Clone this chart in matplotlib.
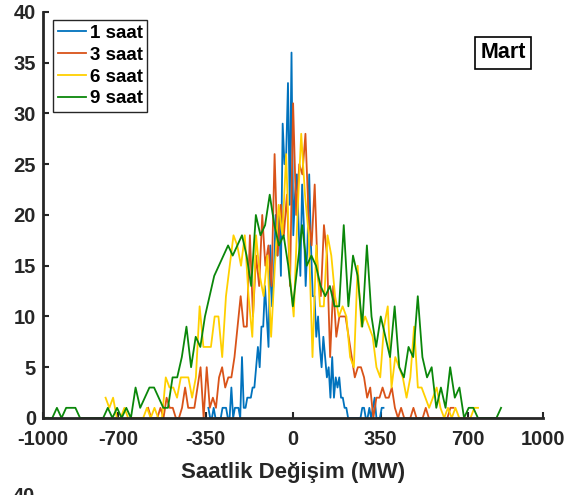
import matplotlib

matplotlib.use("Agg")

import matplotlib.pyplot as plt
import numpy as np


# Histogram counts (100 bins each).
# Each series spans its own range of hourly change in MW.
labels = ["1 saat", "3 saat", "6 saat", "9 saat"]
colors = ["#0072BD", "#D95319", "#FFD000", "#0A870A"]

range_1h = (-339, 361)
range_3h = (-580, 641)
range_6h = (-750, 739)
range_9h = (-1000, 831)

counts_1h = [
    1, 0, 0, 1, 0, 0, 0, 0, 1, 1,
    1, 0, 0, 3, 0, 1, 1, 1, 0, 6,
    1, 1, 2, 2, 2, 3, 3, 5, 7, 5,
    9, 9, 13, 10, 7, 17, 11, 14, 20, 16,
    20, 14, 29, 25, 26, 33, 21, 36, 18, 22,
    24, 19, 14, 23, 19, 13, 17, 24, 17, 12,
    12, 8, 10, 7, 5, 8, 6, 4, 5, 2,
    6, 2, 4, 3, 4, 2, 2, 1, 1, 0,
    0, 0, 0, 0, 0, 0, 0, 1, 1, 0,
    0, 1, 0, 1, 2, 0, 0, 0, 1, 1,
]

counts_3h = [
    1, 0, 0, 0, 1, 0, 2, 1, 1, 0,
    0, 1, 3, 1, 1, 1, 3, 5, 0, 5,
    1, 2, 1, 4, 5, 3, 4, 4, 6, 9,
    12, 9, 9, 18, 10, 16, 13, 20, 15, 17,
    13, 26, 16, 21, 18, 22, 13, 31, 20, 25,
    24, 28, 20, 17, 23, 14, 12, 19, 16, 6,
    13, 8, 10, 10, 10, 8, 6, 4, 5, 5,
    4, 2, 3, 0, 2, 2, 3, 2, 2, 3,
    1, 0, 1, 0, 0, 0, 1, 0, 0, 0,
    1, 0, 0, 0, 0, 0, 0, 0, 1, 1,
]

counts_6h = [
    2, 1, 2, 0, 0, 1, 0, 0, 0, 0,
    0, 1, 0, 1, 0, 0, 4, 3, 3, 2,
    4, 4, 4, 2, 4, 11, 7, 7, 7, 10,
    10, 6, 12, 15, 18, 17, 15, 18, 12, 8,
    18, 14, 12, 16, 8, 15, 21, 18, 26, 14,
    10, 20, 28, 22, 18, 6, 17, 11, 11, 18,
    16, 12, 10, 11, 10, 6, 5, 15, 9, 10,
    9, 8, 5, 4, 9, 11, 3, 6, 5, 4,
    2, 4, 9, 3, 3, 2, 1, 2, 3, 1,
    0, 1, 0, 1, 0, 0, 0, 0, 1, 1,
]

counts_9h = [
    0, 0, 0, 1, 0, 1, 1, 1, 0, 0,
    0, 0, 0, 0, 1, 0, 1, 0, 1, 0,
    3, 1, 2, 3, 3, 2, 1, 1, 4, 4,
    6, 9, 5, 8, 7, 10, 12, 14, 15, 16,
    17, 16, 17, 18, 16, 13, 20, 18, 19, 22,
    19, 17, 18, 15, 11, 15, 19, 15, 16, 15,
    13, 12, 13, 11, 11, 19, 11, 16, 14, 9,
    17, 10, 7, 10, 8, 6, 11, 5, 4, 7,
    6, 12, 6, 4, 5, 1, 3, 1, 5, 2,
    3, 0, 1, 1, 0, 0, 0, 0, 0, 1,
]

x_ticks = [-1000, -700, -350, 0, 350, 700, 1000]
y_ticks = [0, 5, 10, 15, 20, 25, 30, 35, 40]
x_label = "Saatlik Değişim (MW)"
panel_name = "Mart"
# top tick label of the panel below, cut off by the picture's lower edge
next_panel_top_tick = "40"


def bin_centers(value_range, counts):
    """Evenly spaced bin positions across the series' own range."""
    return np.linspace(value_range[0], value_range[1], len(counts))


def main():
    plt.rcParams["font.family"] = ["Liberation Sans", "DejaVu Sans"]
    plt.rcParams["font.weight"] = "bold"

    text_color = "#262626"

    fig = plt.figure(figsize=(5.76, 4.95), dpi=100)
    ax = fig.add_axes([0.0747, 0.1556, 0.8686, 0.8202])

    series = [
        (range_1h, counts_1h),
        (range_3h, counts_3h),
        (range_6h, counts_6h),
        (range_9h, counts_9h),
    ]

    for (value_range, counts), label, color in zip(series, labels, colors):
        ax.plot(
            bin_centers(value_range, counts),
            counts,
            color=color,
            linewidth=1.3,
            label=label,
        )

    ax.set_xlim(-1000, 1000)
    ax.set_ylim(0, 40)
    ax.set_xticks(x_ticks)
    ax.set_yticks(y_ticks)
    ax.set_xticklabels([str(v) for v in x_ticks])

    for side in ["top", "right"]:
        ax.spines[side].set_visible(False)
    for side in ["left", "bottom"]:
        ax.spines[side].set_linewidth(2.0)
        ax.spines[side].set_color(text_color)

    ax.tick_params(
        direction="in",
        length=4,
        width=1.5,
        color=text_color,
        labelcolor=text_color,
        labelsize=14.5,
    )
    ax.tick_params(axis="x", pad=9)
    ax.tick_params(axis="y", pad=5)
    for tick_label in ax.get_xticklabels() + ax.get_yticklabels():
        tick_label.set_fontweight("bold")

    ax.set_xlabel(
        x_label,
        fontsize=16,
        fontweight="bold",
        color=text_color,
        labelpad=9,
    )

    legend = ax.legend(
        loc="upper left",
        bbox_to_anchor=(0.02, 0.98),
        borderaxespad=0,
        fontsize=13.5,
        frameon=True,
        fancybox=False,
        framealpha=1,
        edgecolor=text_color,
        handlelength=1.5,
        handletextpad=0.2,
        labelspacing=0.25,
        borderpad=0.25,
    )
    legend.get_frame().set_linewidth(1.0)
    for text in legend.get_texts():
        text.set_fontweight("bold")

    ax.text(
        0.92,
        0.899,
        panel_name,
        transform=ax.transAxes,
        ha="center",
        va="center",
        fontsize=15.5,
        fontweight="bold",
        color="black",
        bbox=dict(boxstyle="square,pad=0.25", facecolor="white",
                  edgecolor="black", linewidth=1.2),
    )

    fig.text(
        0.0417,
        0.016,
        next_panel_top_tick,
        ha="center",
        va="top",
        fontsize=14.5,
        fontweight="bold",
        color=text_color,
    )

    fig.savefig("out.png", dpi=100)
    plt.close(fig)


if __name__ == "__main__":
    main()
